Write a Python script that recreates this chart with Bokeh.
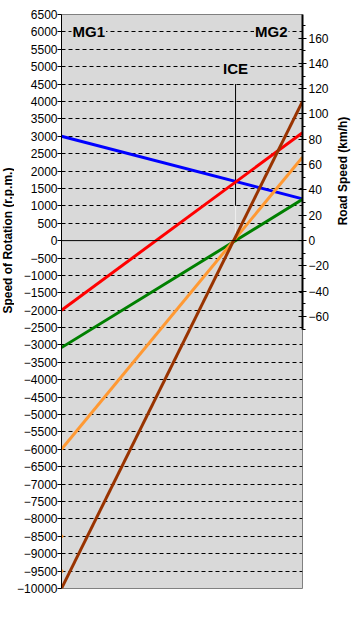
from math import pi
from bokeh.plotting import figure
from bokeh.layouts import row
from bokeh.models import Range1d, LinearAxis, SingleIntervalTicker, FixedTicker, Label, Span
from bokeh.core.properties import value
from bokeh.embed import file_html
from bokeh.resources import INLINE

# ---- data ----
series_names = ["blue", "red", "green", "orange", "brown"]
mg1_rpm = [3000, -2000, -3075, -6000, -10000]
mg2_rpm = [1200, 3100, 1185, 2400, 4000]
series_colors = ["#0000ff", "#ff0000", "#008000", "#ff9933", "#993300"]
extra_mg1_points = [-8500, -9500]
sun_teeth = 30
ring_teeth = 78
ice_marker_rpm = [1000, 4500]
rpm_ticks = list(range(-10000, 6501, 500))
rpm_grid = [t for t in rpm_ticks if t not in (-10000, 0, 6500)]
rpm_per_kmh = 36.4
speed_bounds = (-70, 180)
left_title_rpm = 0

ice_pos = ring_teeth / (ring_teeth + sun_teeth)
FONT = "Liberation Sans"
BG = "#d9d9d9"
TOP, BOTTOM, FH = 14, 42, 574

yr = Range1d(-10000, 6500)
p = figure(frame_width=241, frame_height=FH,
           min_border_left=40, min_border_right=20, min_border_top=TOP, min_border_bottom=BOTTOM,
           x_range=Range1d(0, 1), y_range=yr,
           x_axis_location=None, output_backend="svg", toolbar_location=None)
p.background_fill_color = BG
p.border_fill_color = "white"
p.outline_line_color = "#808080"
p.xgrid.visible = False
p.ygrid.ticker = FixedTicker(ticks=rpm_grid)
p.ygrid.grid_line_color = "black"
p.ygrid.grid_line_dash = "4 3"
p.ygrid.grid_line_width = 1

ya = p.yaxis[0]
ya.ticker = FixedTicker(ticks=rpm_ticks)
ya.major_tick_out = 4
ya.major_tick_in = 0
ya.minor_tick_out = 0
ya.minor_tick_in = 0
ya.axis_line_color = "black"
ya.major_label_standoff = 0
ya.major_label_text_font = FONT
ya.major_label_text_font_size = "12px"
ya.major_label_text_color = "black"

p.extra_y_ranges = {"speed": Range1d(-10000 / rpm_per_kmh, 6500 / rpm_per_kmh)}
ra = LinearAxis(y_range_name="speed", ticker=SingleIntervalTicker(interval=20, num_minor_ticks=2),
                bounds=speed_bounds)
ra.axis_line_width = 2
ra.axis_line_color = "black"
ra.major_tick_in = 4
ra.major_tick_out = 4
ra.minor_tick_in = 0
ra.minor_tick_out = 3
ra.major_label_standoff = 2
ra.major_label_text_font = FONT
ra.major_label_text_font_size = "12px"
ra.major_label_text_color = "black"
p.add_layout(ra, "right")

p.add_layout(Span(location=0, dimension="width", line_color="black", line_width=1))

# ICE marker line
p.line([ice_pos, ice_pos], [0, ice_marker_rpm[0]], line_color="#eeeeee", line_width=1)
p.line([ice_pos, ice_pos], ice_marker_rpm, line_color="black", line_width=1)

for a, b, c in zip(mg1_rpm, mg2_rpm, series_colors):
    p.line([0, 1], [a, b], line_color=c, line_width=3)

p.scatter([0] * len(extra_mg1_points), extra_mg1_points, size=3, color="#ff9933")

def lab(text, x, y, xu, align, size="15px"):
    p.add_layout(Label(x=x, y=y, x_units=xu, y_units="data", text=text, text_align=align,
                       text_baseline="middle", text_font=FONT, text_font_size=size,
                       text_font_style="bold", text_color="black",
                       background_fill_color=BG, padding=1))

lab("MG1", 10, 6000, "screen", "left")
lab("MG2", 227, 6000, "screen", "right")
lab("ICE", ice_pos, 4950, "data", "center")


def side_fig(width, text, y_rpm):
    s = figure(width=width, height=TOP + FH + BOTTOM, x_range=Range1d(0, 1), y_range=yr,
               min_border_left=0, min_border_right=0, min_border_top=TOP, min_border_bottom=BOTTOM,
               x_axis_location=None, y_axis_location=None,
               output_backend="svg", toolbar_location=None)
    s.outline_line_color = None
    s.grid.visible = False
    s.background_fill_color = "white"
    s.text(x=[0.5], y=[y_rpm], text=[text], angle=pi / 2,
           text_align="center", text_baseline="middle", text_font=value(FONT),
           text_font_size="12px", text_font_style="bold", text_color="black")
    return s


left = side_fig(14, "Speed of Rotation (r.p.m.)", left_title_rpm)
mid_speed = (speed_bounds[0] + speed_bounds[1]) / 2
right = side_fig(22, "Road Speed (km/h)", mid_speed * rpm_per_kmh)

layout = row(left, p, right)
open("out.html", "w").write(file_html(layout, INLINE))
